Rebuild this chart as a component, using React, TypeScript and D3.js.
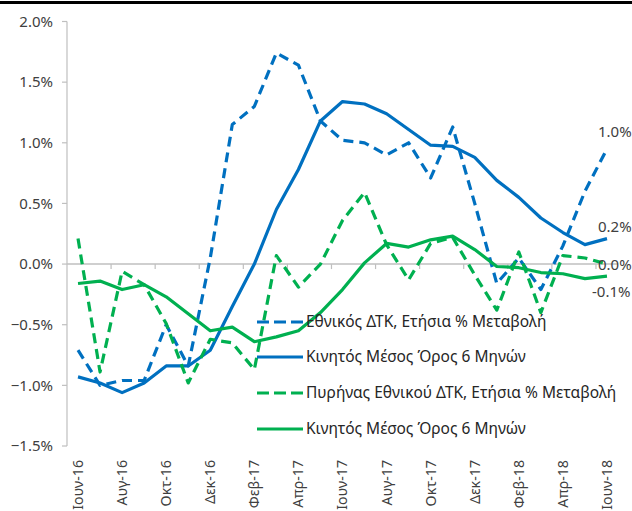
import React from "react";
import * as d3 from "d3";

const months = [
  "Ιουν-16", "Ιουλ-16", "Αυγ-16", "Σεπ-16", "Οκτ-16", "Νοε-16", "Δεκ-16",
  "Ιαν-17", "Φεβ-17", "Μαρ-17", "Απρ-17", "Μαϊ-17", "Ιουν-17", "Ιουλ-17",
  "Αυγ-17", "Σεπ-17", "Οκτ-17", "Νοε-17", "Δεκ-17", "Ιαν-18", "Φεβ-18",
  "Μαρ-18", "Απρ-18", "Μαϊ-18", "Ιουν-18",
];

const cpiAnnual = [
  -0.71, -1.0, -0.96, -0.96, -0.5, -0.84, 0.05, 1.15, 1.3, 1.74, 1.64, 1.18,
  1.02, 1.0, 0.9, 1.0, 0.71, 1.13, 0.5, -0.16, 0.05, -0.21, 0.15, 0.6, 0.95,
];
const cpiMA6 = [
  -0.93, -0.98, -1.06, -0.98, -0.84, -0.84, -0.71, -0.35, 0.0, 0.45, 0.78, 1.18,
  1.34, 1.32, 1.24, 1.11, 0.98, 0.97, 0.88, 0.69, 0.55, 0.38, 0.26, 0.16, 0.21,
];
const coreAnnual = [
  0.21, -0.89, -0.06, -0.17, -0.49, -0.98, -0.62, -0.65, -0.87, 0.07, -0.19, 0.0,
  0.36, 0.59, 0.16, -0.13, 0.17, 0.22, -0.09, -0.38, 0.1, -0.4, 0.07, 0.05, 0.0,
];
const coreMA6 = [
  -0.16, -0.14, -0.21, -0.17, -0.27, -0.41, -0.55, -0.52, -0.64, -0.6, -0.55, -0.4,
  -0.21, 0.01, 0.17, 0.14, 0.2, 0.23, 0.12, -0.02, -0.03, -0.07, -0.08, -0.12, -0.1,
];

const yTicks = [-1.5, -1.0, -0.5, 0.0, 0.5, 1.0, 1.5, 2.0];

const legendLabels = [
  "Εθνικός ΔΤΚ, Ετήσια % Μεταβολή",
  "Κινητός Μέσος Όρος 6 Μηνών",
  "Πυρήνας Εθνικού ΔΤΚ, Ετήσια % Μεταβολή",
  "Κινητός Μέσος Όρος 6 Μηνών",
];

const endLabels = ["1.0%", "0.2%", "0.0%", "-0.1%"];

const BLUE = "#0070c0";
const GREEN = "#00b050";
const FONT = "'Noto Sans', sans-serif";

export default function App() {
  const W = 632;
  const H = 511;
  const left = 67;
  const right = 618;
  const x = d3.scaleBand<string>().domain(months).range([left, right]).padding(0);
  const cx = (i: number) => (x(months[i]) as number) + x.bandwidth() / 2;
  const y = d3.scaleLinear().domain([-1.5, 2.0]).range([446, 21.5]);
  const fmt = d3.format(".1f");

  const line = d3
    .line<number>()
    .x((_, i) => cx(i))
    .y((d) => y(d));

  const series = [
    { data: cpiAnnual, color: BLUE, dash: "10,6" },
    { data: cpiMA6, color: BLUE, dash: null },
    { data: coreAnnual, color: GREEN, dash: "10,6" },
    { data: coreMA6, color: GREEN, dash: null },
  ];

  const endOffsets = [
    { dx: -9, dy: -17 },
    { dx: -9, dy: -12 },
    { dx: -9, dy: 1 },
    { dx: -15, dy: 16 },
  ];

  const legendY = [322, 357, 393, 429];

  return (
    <svg
      width={W}
      height={H}
      style={{ position: "absolute", left: 0, top: 0, background: "#fff" }}
      fontFamily={FONT}
    >
      <rect x={0} y={0} width={W} height={H} fill="#fff" />
      <line x1={0} x2={W} y1={2.5} y2={2.5} stroke="#000" strokeWidth={3} />

      {/* y axis */}
      <line x1={left} x2={left} y1={y(2.0)} y2={y(-1.5)} stroke="#bfbfbf" strokeWidth={1.2} />
      {yTicks.map((t) => (
        <g key={t}>
          <line x1={left - 5} x2={left} y1={y(t)} y2={y(t)} stroke="#bfbfbf" strokeWidth={1.2} />
          <text
            x={53}
            y={y(t)}
            dy="0.35em"
            textAnchor="end"
            fontSize={15}
            fill="#404040"
          >
            {fmt(t) + "%"}
          </text>
        </g>
      ))}

      {/* zero line / category axis */}
      <line x1={left} x2={right} y1={y(0)} y2={y(0)} stroke="#bfbfbf" strokeWidth={1.5} />
      {months.map((m, i) =>
        i % 2 === 0 && i > 0 ? (
          <line
            key={"t" + m}
            x1={x(m) as number}
            x2={x(m) as number}
            y1={y(0)}
            y2={y(0) + 5}
            stroke="#bfbfbf"
            strokeWidth={1.2}
          />
        ) : null
      )}
      {months.map((m, i) =>
        i % 2 === 0 ? (
          <text
            key={"l" + m}
            transform={`translate(${cx(i)},460) rotate(-90)`}
            textAnchor="end"
            dy="0.35em"
            fontSize={14.2}
            fill="#404040"
          >
            {m}
          </text>
        ) : null
      )}

      {/* series */}
      {series.map((s, k) => (
        <path
          key={k}
          d={line(s.data) as string}
          fill="none"
          stroke={s.color}
          strokeWidth={3.2}
          strokeDasharray={s.dash ?? undefined}
          strokeLinejoin="round"
        />
      ))}

      {/* end labels */}
      {series.map((s, k) => (
        <text
          key={"e" + k}
          x={cx(months.length - 1) + endOffsets[k].dx}
          y={y(s.data[s.data.length - 1]) + endOffsets[k].dy}
          dy="0.35em"
          fontSize={15}
          fill="#404040"
        >
          {endLabels[k]}
        </text>
      ))}

      {/* legend */}
      {series.map((s, k) => (
        <g key={"lg" + k}>
          <line
            x1={257}
            x2={303}
            y1={legendY[k]}
            y2={legendY[k]}
            stroke={s.color}
            strokeWidth={3.2}
            strokeDasharray={s.dash ? "12,5" : undefined}
          />
          <text x={306} y={legendY[k]} dy="0.35em" fontSize={15.5} fill="#262626">
            {legendLabels[k]}
          </text>
        </g>
      ))}
    </svg>
  );
}
